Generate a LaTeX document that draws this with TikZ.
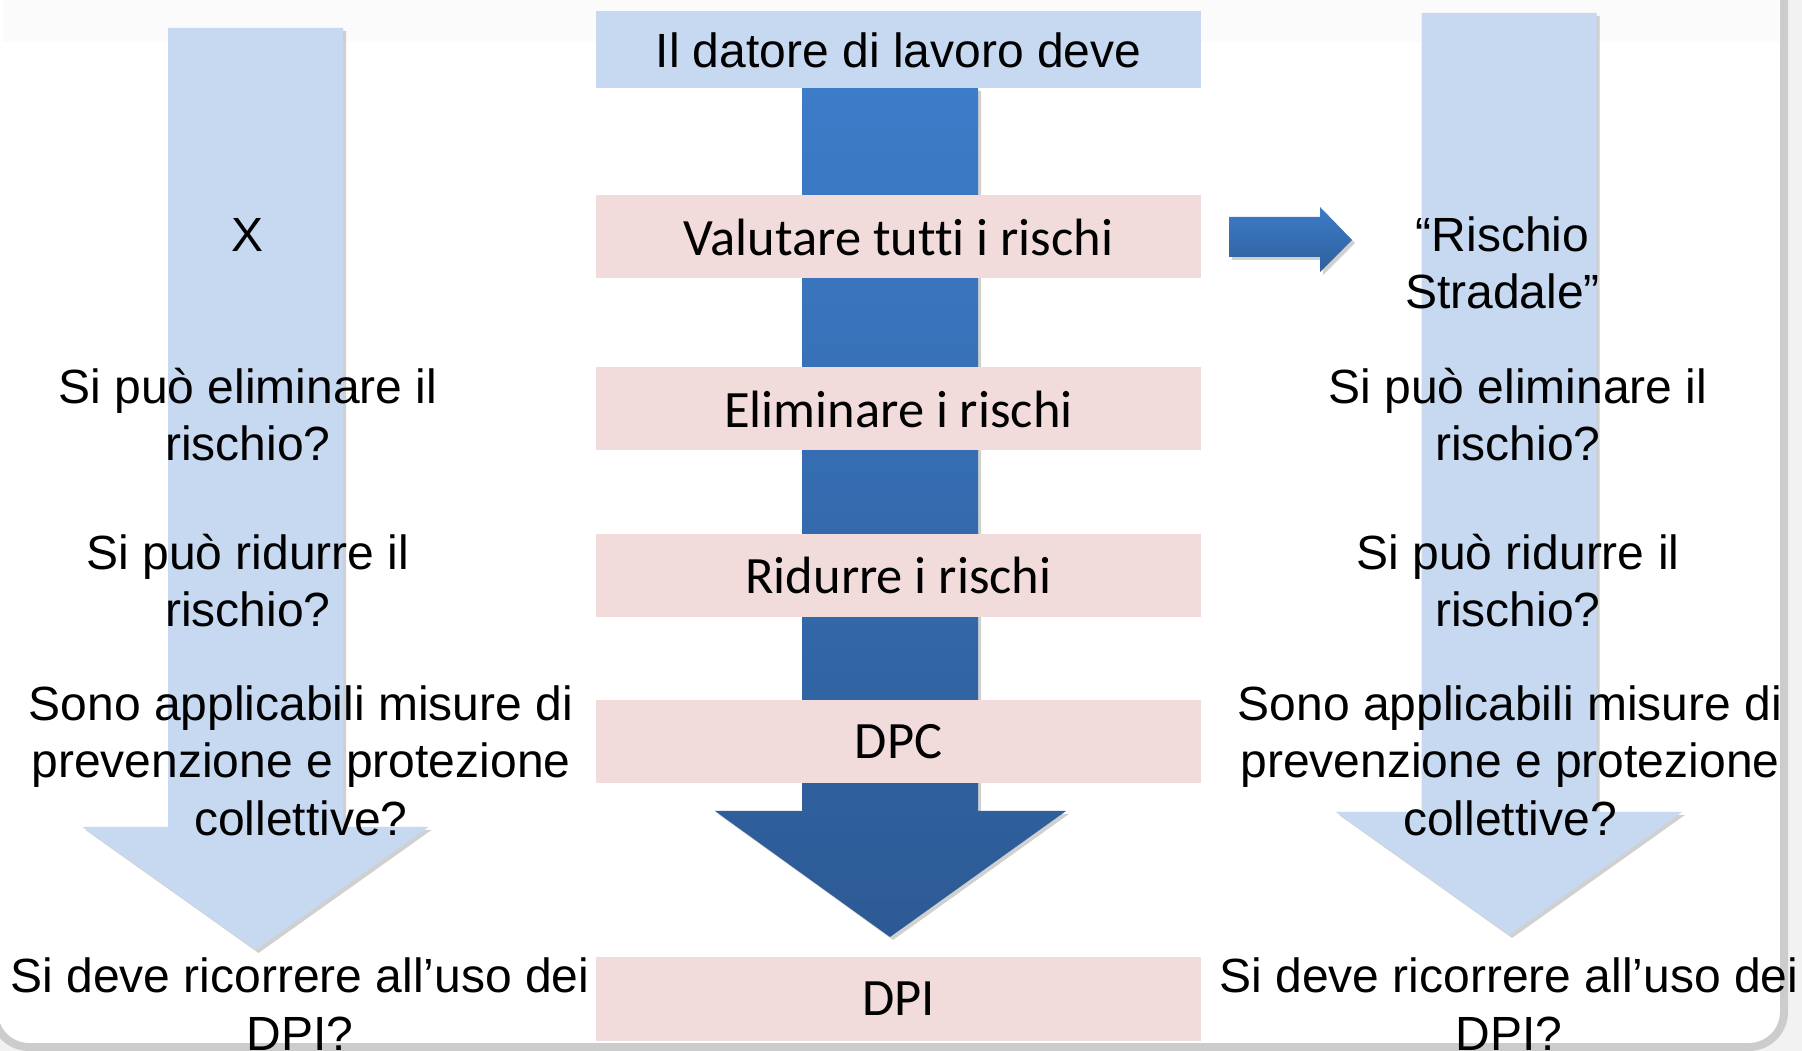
\documentclass[tikz,border=0pt]{standalone}
\usepackage{fontspec}
\setmainfont{Liberation Sans}
\newfontfamily\calibrifont[Ligatures=NoCommon]{Carlito}
\usepackage{tikz}
\usetikzlibrary{calc}
\usetikzlibrary{positioning}
\usetikzlibrary{shadows}

\definecolor{paleblue}{HTML}{C6D9F1}
\definecolor{palepink}{HTML}{F2DCDB}
\definecolor{arrowtop}{HTML}{3D7CC9}
\definecolor{arrowbot}{HTML}{2C5A94}

\tikzset{
  riskbox/.style={fill=palepink, minimum width=242pt, minimum height=33.2pt,
    inner sep=0pt, font=\calibrifont\fontsize{21}{25}\selectfont},
  headbox/.style={riskbox, fill=paleblue, minimum height=30.8pt,
    font=\fontsize{19.2}{23}\selectfont},
  % anchor=base sits on the last line
  question/.style={align=center, inner sep=0pt, anchor=base,
    font=\fontsize{19.2}{23}\selectfont},
  softshadow/.style={drop shadow={shadow xshift=1.2pt, shadow yshift=-1.2pt,
    opacity=0.3, fill=black!60}}
}

\begin{document}
\begin{tikzpicture}[x=0.4pt, y=-0.4pt]
  \useasboundingbox (0,0) rectangle (1802,1051);

  % slide frame
  \fill[gray!10] (0,0) rectangle (1802,1051);
  \draw[gray!40, line width=3.2pt, fill=white, rounded corners=14pt]
    (-6,-40) rectangle (1784,1047);
  \fill[gray!3] (3,0) rectangle (1779,42);

  % side arrows
  \foreach \cx/\top/\tip in {255.5/28/950, 1509/13/935} {
    \fill[paleblue, softshadow]
      (\cx-87.5,\top) -- (\cx+87.5,\top) -- (\cx+87.5,\tip-123)
      -- (\cx+173,\tip-123) -- (\cx,\tip) -- (\cx-173,\tip-123)
      -- (\cx-87.5,\tip-123) -- cycle;
  }

  % main arrow
  \path[top color=arrowtop, bottom color=arrowbot, softshadow]
    (802,88) -- (978,88) -- (978,811) -- (1066,811) -- (890,937)
    -- (715,811) -- (802,811) -- cycle;

  % small arrow
  \path[top color=arrowtop, bottom color=arrowbot!85!arrowtop, softshadow]
    (1229,217) -- (1320,217) -- (1320,207) -- (1352,240) -- (1320,272)
    -- (1320,257) -- (1229,257) -- cycle;

  \node[headbox] (datore) at (898.5,50) {Il datore di lavoro deve};
  \foreach \y/\name/\txt in {237/valutare/Valutare tutti i rischi,
      409/eliminare/Eliminare i rischi, 575.5/ridurre/Ridurre i rischi,
      742/dpc/DPC, 999/dpi/DPI}
    \node[riskbox] (\name) at (898.5,\y) {\txt};

  % left column
  \node[question] (xleft) at (248,252) {X};
  \node[question] (elimleft) at (248,461) {Si può eliminare il\\rischio?};
  \node[question] (ridleft) at (248,627) {Si può ridurre il\\rischio?};
  \node[question] (dpcleft) at (301,835.5)
    {Sono applicabili misure di\\prevenzione e protezione\\collettive?};
  \node[question] (dpileft) at (300,1050.5) {Si deve ricorrere all’uso dei\\DPI?};

  % right column
  \node[question] (stradale) at (1502.5,309) {“Rischio\\Stradale”};
  \node[question] (elimright) at (1518,461) {Si può eliminare il\\rischio?};
  \node[question] (ridright) at (1518,627) {Si può ridurre il\\rischio?};
  \node[question] (dpcright) at (1510,835.5)
    {Sono applicabili misure di\\prevenzione e protezione\\collettive?};
  \node[question] (dpiright) at (1509,1050.5) {Si deve ricorrere all’uso dei\\DPI?};

\end{tikzpicture}
\end{document}
